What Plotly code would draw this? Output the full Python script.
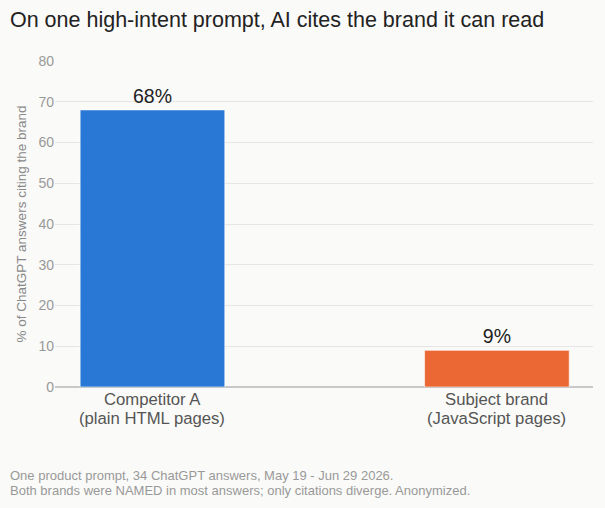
import plotly.graph_objects as go

cat_line1 = ["Competitor A", "Subject brand"]
cat_line2 = ["(plain HTML pages)", "(JavaScript pages)"]
values = [68, 9]
labels = ["68%", "9%"]
colors = ["#2a78d6", "#eb6834"]
y_ticks = [0, 10, 20, 30, 40, 50, 60, 70, 80]

title_text = "On one high-intent prompt, AI cites the brand it can read"
y_title = "% of ChatGPT answers citing the brand"
footnote_lines = [
    "One product prompt, 34 ChatGPT answers, May 19 - Jun 29 2026.",
    "Both brands were NAMED in most answers; only citations diverge. Anonymized.",
]

FONT = "Liberation Sans, Arial, sans-serif"
BG = "#fafaf8"

fig = go.Figure(go.Bar(
    x=[0, 1],
    y=values,
    width=0.42,
    marker=dict(color=colors, line=dict(color="rgba(255,255,255,0.6)", width=1)),
    text=labels,
    textposition="outside",
    textfont=dict(size=19.5, color="#222222", family=FONT),
    cliponaxis=False,
    hoverinfo="skip",
))

annotations = []
for i, (l1, l2) in enumerate(zip(cat_line1, cat_line2)):
    for txt, yy in ((l1, -0.0383), (l2, -0.0951)):
        annotations.append(dict(
            text=txt, xref="x", yref="paper", x=i, y=yy,
            xanchor="center", yanchor="middle", showarrow=False, borderpad=0,
            font=dict(size=16.7, color="#555555", family=FONT),
        ))
for txt, yy in zip(footnote_lines, (-0.273, -0.316)):
    annotations.append(dict(
        text=txt, xref="paper", yref="paper", x=-0.085, y=yy,
        xanchor="left", yanchor="middle", align="left", showarrow=False, borderpad=0,
        font=dict(size=13, color="#999999", family=FONT),
    ))

fig.update_layout(
    width=605, height=508,
    margin=dict(l=55, r=12, t=61, b=121, autoexpand=False),
    paper_bgcolor=BG,
    plot_bgcolor=BG,
    font=dict(family=FONT),
    showlegend=False,
    title=dict(text=title_text, x=0.0165, xanchor="left", y=0.961, yanchor="middle",
               font=dict(size=21.5, color="#222222", family=FONT)),
    xaxis=dict(
        tickmode="array", tickvals=[0, 1], showticklabels=False,
        range=[-0.283, 1.279],
        showgrid=False, zeroline=False, showline=False, ticks="",
    ),
    yaxis=dict(
        range=[0, 80], tickvals=y_ticks,
        tickfont=dict(size=14, color="#999999", family=FONT),
        gridcolor="#e6e6e6", gridwidth=1,
        zeroline=True, zerolinecolor="#c8c8c8", zerolinewidth=1.5,
        showline=False, ticks="", ticklen=0,
        title=dict(text=y_title, font=dict(size=13.5, color="#888888", family=FONT), standoff=8),
    ),
    annotations=annotations,
)

fig.write_html(
    "out.html",
    config={"displayModeBar": False},
    post_script="document.body.style.margin='0';document.body.style.background='%s';" % BG,
)
